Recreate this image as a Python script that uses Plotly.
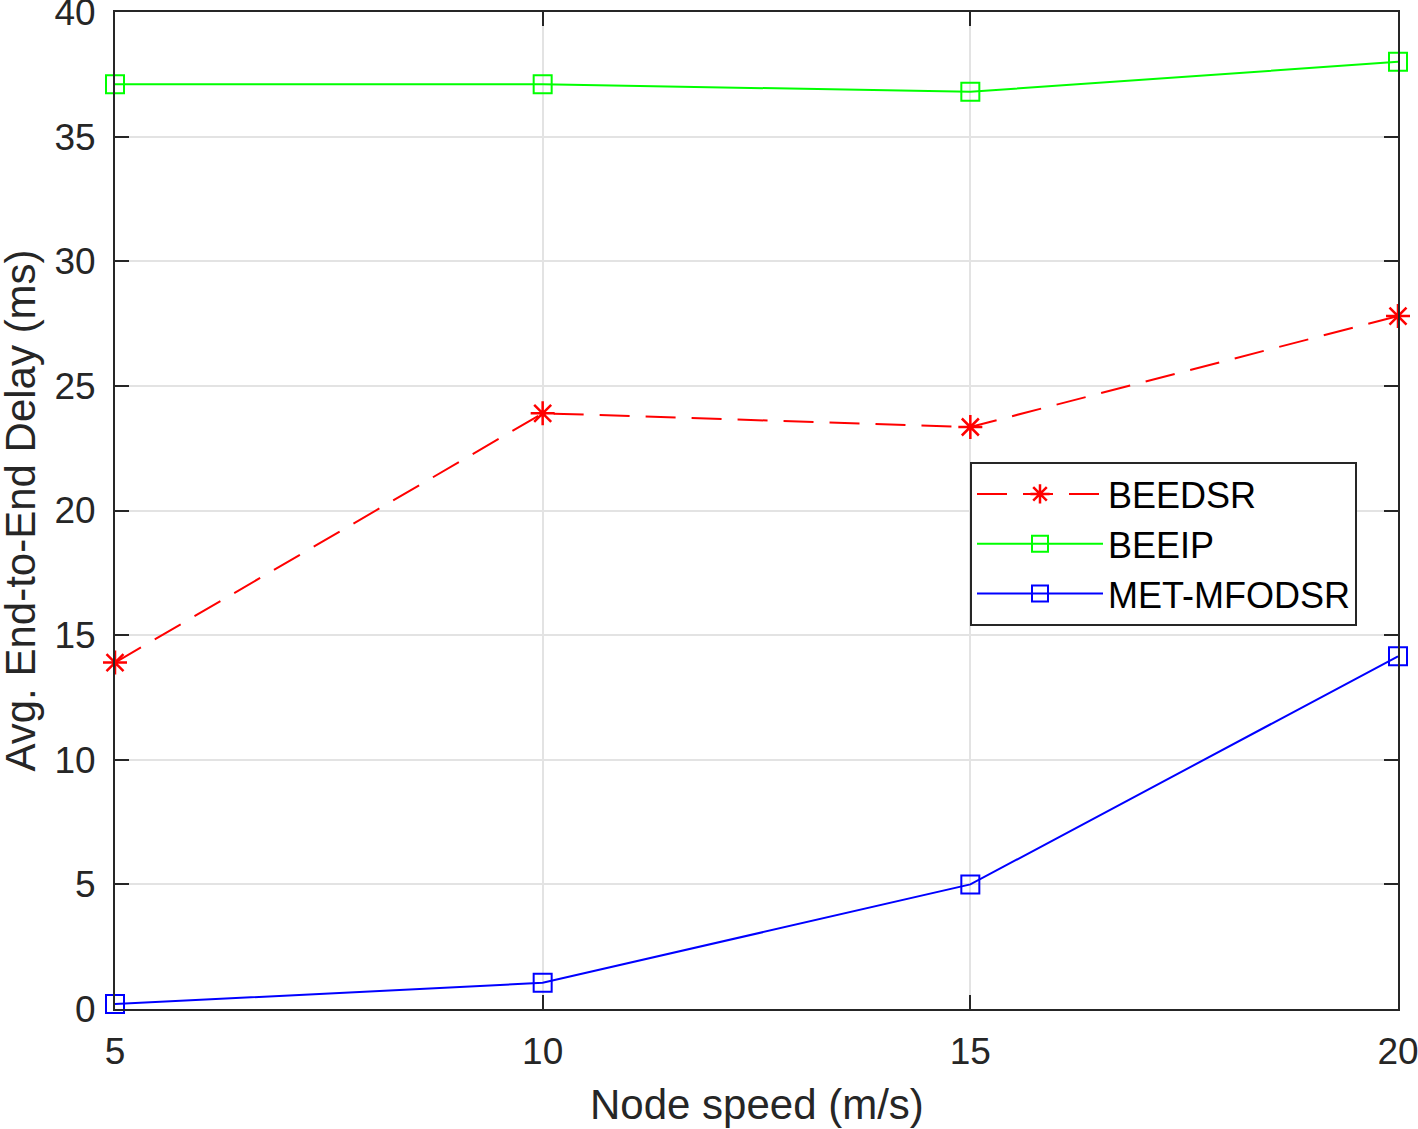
import plotly.graph_objects as go

speeds = [5, 10, 15, 20]
beedsr = [13.9, 23.9, 23.35, 27.8]
beeip = [37.1, 37.1, 36.8, 38.0]
met_mfodsr = [0.2, 1.05, 5.0, 14.15]

x_ticks = [5, 10, 15, 20]
y_ticks = [0, 5, 10, 15, 20, 25, 30, 35, 40]
x_title = "Node speed (m/s)"
y_title = "Avg. End-to-End Delay (ms)"

FONT = "Liberation Sans, Arial, Helvetica, sans-serif"
AX = "#262626"

fig = go.Figure()
fig.add_trace(go.Scatter(
    x=speeds, y=beedsr, name="BEEDSR", mode="lines+markers",
    line=dict(color="#ff0000", width=2, dash="30px,16px"),
    marker=dict(symbol="asterisk-open", size=20, color="#ff0000",
                line=dict(color="#ff0000", width=2.5)),
    cliponaxis=False,
))
fig.add_trace(go.Scatter(
    x=speeds, y=beeip, name="BEEIP", mode="lines+markers",
    line=dict(color="#00ff00", width=2),
    marker=dict(symbol="square-open", size=18, color="#00ff00",
                line=dict(color="#00ff00", width=2)),
    cliponaxis=False,
))
fig.add_trace(go.Scatter(
    x=speeds, y=met_mfodsr, name="MET-MFODSR", mode="lines+markers",
    line=dict(color="#0000ff", width=2),
    marker=dict(symbol="square-open", size=18, color="#0000ff",
                line=dict(color="#0000ff", width=2)),
    cliponaxis=False,
))

fig.update_layout(
    width=1418, height=1129,
    margin=dict(l=115, r=20, t=12, b=120),
    paper_bgcolor="white", plot_bgcolor="white",
    font=dict(family=FONT, size=30, color=AX),
    showlegend=True,
    legend=dict(
        x=(1357 - 115) / 1283, y=(1009 - 462) / 997, xanchor="right", yanchor="top",
        bgcolor="white", bordercolor="#262626", borderwidth=2,
        font=dict(family=FONT, size=36, color="black"),
        tracegroupgap=0, itemwidth=126,
    ),
    annotations=[
        dict(text=x_title, xref="paper", yref="paper", x=0.5, y=0,
             xanchor="center", yanchor="middle", yshift=-95, showarrow=False,
             font=dict(family=FONT, size=42, color=AX)),
        dict(text=y_title, xref="paper", yref="paper", x=0, y=0.5,
             xanchor="center", yanchor="middle", xshift=-95, textangle=-90,
             showarrow=False, font=dict(family=FONT, size=42, color=AX)),
    ],
)
fig.update_xaxes(
    range=[5, 20], tickvals=x_ticks, ticktext=[str(v) for v in x_ticks],
    showgrid=True, gridcolor="#e3e3e3", gridwidth=1.5,
    showline=True, linecolor=AX, linewidth=2, mirror="ticks",
    ticks="inside", ticklen=14, tickwidth=2, tickcolor=AX,
    zeroline=False, automargin=False, ticklabeloverflow="allow",
    tickfont=dict(size=37, color=AX),
    ticklabelstandoff=9,
)
fig.update_yaxes(
    range=[0, 40], tickvals=y_ticks, ticktext=[str(v) for v in y_ticks],
    showgrid=True, gridcolor="#e3e3e3", gridwidth=1.5,
    showline=True, linecolor=AX, linewidth=2, mirror="ticks",
    ticks="inside", ticklen=14, tickwidth=2, tickcolor=AX,
    zeroline=False, automargin=False, ticklabeloverflow="allow",
    tickfont=dict(size=37, color=AX),
    ticklabelstandoff=10,
)

fig.write_html(
    "out.html",
    config={"displayModeBar": False},
    post_script="document.body.style.margin='0';document.body.style.overflow='hidden';",
)
